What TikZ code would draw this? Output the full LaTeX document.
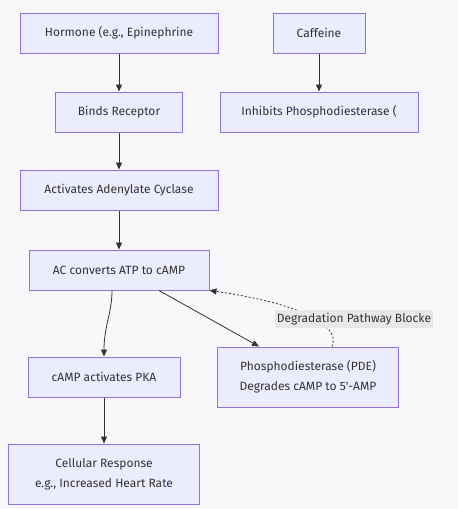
\documentclass[tikz,border=0pt]{standalone}
\usepackage{fontspec}
\setmainfont{Fira Sans}
\usetikzlibrary{arrows.meta}
\definecolor{boxfill}{HTML}{ECECFF}
\definecolor{boxline}{HTML}{9370DB}
\definecolor{inkgray}{HTML}{333333}
\definecolor{lblfill}{HTML}{E8E8E8}
\definecolor{bgcol}{HTML}{F8F8FB}

\begin{document}
\begin{tikzpicture}[x=1pt,y=-1pt,
	box/.style={draw=boxline,fill=boxfill,line width=1pt,minimum height=40pt,inner sep=0pt,align=center,text=inkgray,font=\fontsize{12}{20}\selectfont},
	link/.style={draw=inkgray,line width=0.8pt,-{Triangle[length=7pt,width=6pt]}}]
					\fill[bgcol] (0,0) rectangle (458,509);
					\node[box,minimum width=198pt] (hormone) at (119,33) {Hormone (e.g., Epinephrine};
					\node[box,minimum width=92pt] (caffeine) at (319,33) {Caffeine};
					\node[box,minimum width=127pt] (receptor) at (119,112) {Binds Receptor};
					\node[box,minimum width=198pt] (inhibit) at (319,112) {Inhibits Phosphodiesterase (};
					\node[box,minimum width=198pt] (cyclase) at (119,190) {Activates Adenylate Cyclase};
					\node[box,minimum width=180pt] (convert) at (119,270) {AC converts ATP to cAMP};
					\node[box,minimum width=152pt] (pka) at (104,377) {cAMP activates PKA};
					\node[box,minimum width=181pt,minimum height=60pt] (pde) at (308,377) {Phosphodiesterase (PDE)\\Degrades cAMP to 5\textquotesingle-AMP};
					\node[box,minimum width=191pt,minimum height=60pt] (response) at (104,474) {Cellular Response\\e.g., Increased Heart Rate};
					\draw[link] (hormone) -- (receptor);
					\draw[link] (caffeine) -- (inhibit);
					\draw[link] (receptor) -- (cyclase);
					\draw[link] (cyclase) -- (convert);
					\draw[link] ([xshift=-7pt]convert.south) .. controls +(0,22) and +(0,-30) .. (pka.north);
					\draw[link] ([xshift=40pt]convert.south) -- ([xshift=-49pt]pde.north);
					\draw[link] (pka) -- (response);
					\draw[link,dash pattern=on 2pt off 2pt] ([xshift=24pt]pde.north) .. controls (342,322) and (290,302) .. (convert.south east);
%label over the dotted curve
					\node[fill=lblfill,inner xsep=2pt,inner ysep=3pt,text=inkgray,font=\fontsize{12}{14}\selectfont] (blocked) at (354,319) {Degradation Pathway Blocke};
				  \end{tikzpicture}
\end{document}
